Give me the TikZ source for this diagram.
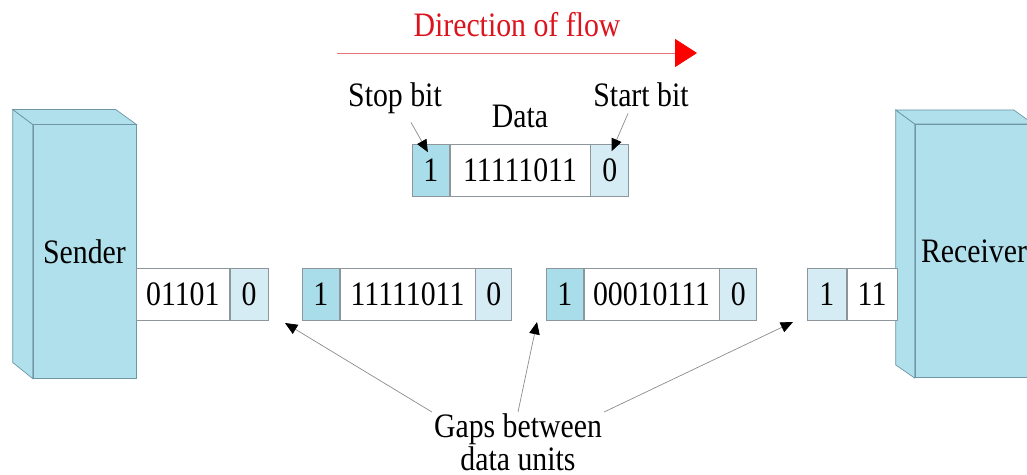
\documentclass[tikz,border=0pt]{standalone}
\usepackage{fontspec}
\setmainfont[FakeStretch=0.87]{Liberation Serif}
\usetikzlibrary{positioning,arrows.meta,calc}

\definecolor{boxblue}{RGB}{176,224,236}
\definecolor{stopblue}{RGB}{170,221,234}
\definecolor{startblue}{RGB}{214,236,244}
\definecolor{edgegray}{RGB}{140,150,155}
\definecolor{boxedge}{RGB}{110,150,165}
\definecolor{flowred}{RGB}{220,20,30}

\tikzset{
  bitcell/.style={draw=edgegray,inner sep=0pt,minimum width=.74cm,minimum height=1.04cm,anchor=west},
  stop_bit/.style={bitcell,fill=stopblue},
  start_bit/.style={bitcell,fill=startblue},
  data_bits/.style={bitcell,fill=white,minimum width=2.7cm},
  station/.style={draw=boxedge,fill=boxblue,inner sep=0pt,minimum height=5.07cm},
}

\begin{document}
\begin{tikzpicture}[
  x=0.02cm, y=-0.02cm,
  every node/.style={font=\fontsize{19.5}{17}\selectfont},
  lbl/.style={inner sep=1pt},
  ptr/.style={draw=gray!90,-{Triangle[length=7pt,width=6pt,color=black]}},
  ]

  \clip (0,0) rectangle (1027,475);

  % sender and receiver
  \node[station,minimum width=2.06cm] (sender) at (84.5,251.5) {Sender};
  \draw[boxedge,fill=boxblue] (sender.north west) -- ++(-20,-15) -- ++(0,253) -- (sender.south west) -- cycle;
  \draw[boxedge,fill=boxblue] (sender.north west) -- ++(-20,-15) -- ++(103,0) -- (sender.north east) -- cycle;

  \node[station,minimum width=2.36cm] (receiver) at (974,251) {Receiver};
  \draw[boxedge,fill=boxblue] (receiver.north west) -- ++(-19,-14) -- ++(0,255) -- (receiver.south west) -- cycle;
  \draw[boxedge,fill=boxblue] (receiver.north west) -- ++(-19,-14) -- ++(118,0) -- (receiver.north east) -- cycle;

  % direction of flow
  \node[lbl,anchor=base,text=flowred] (flowlbl) at (517,37) {Direction of flow};
  \coordinate (flowa) at (337,53);
  \coordinate (flowb) at (697,53);
  \draw[flowred!60,-{Triangle[length=12.5pt,width=16pt,color=red]}] (flowa) -- (flowb);

  % one frame
  \node[stop_bit] (fstop) at (412,170.5) {1};
  \node[data_bits,right=0pt of fstop,minimum width=2.8cm] (fdata) {11111011};
  \node[start_bit,right=0pt of fdata,minimum width=.76cm] (fstart) {0};

  \node[lbl,anchor=base] (stoplbl) at (395,107) {Stop bit};
  \node[lbl,anchor=base] (datalbl) at (520,128) {Data};
  \node[lbl,anchor=base] (startlbl) at (641,107) {Start bit};
  \draw[ptr] ($(stoplbl.south)+(16,6)$) -- ($(fstop.north)+(-3,8)$);
  \draw[ptr] ($(startlbl.south)+(-13,4)$) -- ($(fstart.north)+(2,7)$);

  % frames on the line
  \node[data_bits,minimum width=1.86cm] (adata) at (136,294) {01101};
  \node[start_bit,right=0pt of adata,minimum width=.76cm] (astart) {0};

  \node[stop_bit] (bstop) at (302,294) {1};
  \node[data_bits,right=0pt of bstop] (bdata) {11111011};
  \node[start_bit,right=0pt of bdata,minimum width=.72cm] (bstart) {0};

  \node[stop_bit] (cstop) at (546,294) {1};
  \node[data_bits,right=0pt of cstop] (cdata) {00010111};
  \node[start_bit,right=0pt of cdata] (cstart) {0};

  \node[start_bit,minimum width=.78cm] (dstop) at (807,294) {1};
  \node[data_bits,right=0pt of dstop,minimum width=1cm] (ddata) {11};

  % gaps
  \node[lbl,anchor=north,align=center] (gaps) at (518,412) {Gaps between\\data units};
  \coordinate (gapa) at (285,323);
  \coordinate (gapb) at (537,322);
  \coordinate (gapc) at (793,322);
  \foreach \anc/\tip in {north west/gapa, north/gapb, north east/gapc}{
    \draw[ptr] (gaps.\anc) -- (\tip);
  }

\end{tikzpicture}
\end{document}
